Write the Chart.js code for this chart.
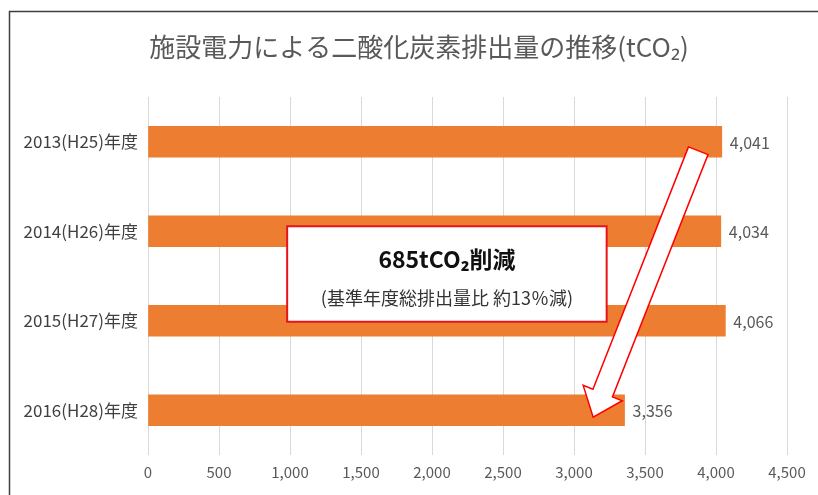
<!DOCTYPE html>
<html>
<head>
<meta charset="utf-8">
<script src="https://cdn.jsdelivr.net/npm/chart.js@4.4.1/dist/chart.umd.min.js"></script>
<style>
    html, body { margin: 0; padding: 0; background: #fff; }
    #wrap { width: 818px; height: 495px; position: relative; }
</style>
</head>
<body>
<div id="wrap"><canvas id="co2Chart"></canvas></div>
<script>
const years = ['2013(H25)年度', '2014(H26)年度', '2015(H27)年度', '2016(H28)年度'];
const emissions = [4041, 4034, 4066, 3356];
const xTicks = [0, 500, 1000, 1500, 2000, 2500, 3000, 3500, 4000, 4500];

const titleText = '施設電力による二酸化炭素排出量の推移(tCO₂)';
const noteMain = '685tCO₂削減';
const noteSub = '(基準年度総排出量比 約13％減)';

const JP = '"Noto Sans CJK JP", "Noto Sans", sans-serif';

/**
 * frame, title, value labels, callout box and arrow
 */
const decorations = {
    id: 'decorations',
    beforeDraw(chart) {
        const ctx = chart.ctx;
        ctx.save();
        ctx.strokeStyle = '#3f3f3f';
        ctx.lineWidth = 1.5;
        ctx.strokeRect(9.5, 11.5, 1000, 1000);
        ctx.fillStyle = '#595959';
        ctx.font = '26px ' + JP;
        ctx.textAlign = 'center';
        ctx.textBaseline = 'middle';
        ctx.fillText(titleText, 419, 47);
        ctx.restore();
    },
    afterDatasetsDraw(chart) {
        const ctx = chart.ctx;
        const xs = chart.scales.x;
        const ys = chart.scales.y;
        const bars = chart.getDatasetMeta(0).data;

        ctx.save();
        ctx.fillStyle = '#595959';
        ctx.font = '16px ' + JP;
        ctx.textAlign = 'left';
        ctx.textBaseline = 'middle';
        bars.forEach((bar, i) => {
            ctx.fillText(emissions[i].toLocaleString('en-US'), bar.x + 8, bar.y + 1);
        });

        // callout box
        const bx = xs.getPixelForValue(980);
        const bx2 = xs.getPixelForValue(3230);
        const by = ys.getPixelForValue(1) - 5;
        const by2 = ys.getPixelForValue(2) + 1;
        ctx.fillStyle = '#ffffff';
        ctx.fillRect(bx, by, bx2 - bx, by2 - by);
        ctx.strokeStyle = '#e8141b';
        ctx.lineWidth = 2;
        ctx.strokeRect(bx, by, bx2 - bx, by2 - by);

        const cx = (bx + bx2) / 2;
        ctx.fillStyle = '#111111';
        ctx.textAlign = 'center';
        ctx.font = 'bold 23px ' + JP;
        ctx.fillText(noteMain, cx, by + 33);
        ctx.fillStyle = '#333333';
        ctx.font = '18px ' + JP;
        ctx.fillText(noteSub, cx, by + 72);

        // downward arrow from the first bar to the last one
        const tail = { x: xs.getPixelForValue(3875), y: ys.getPixelForValue(0) + 9 };
        const tip = { x: xs.getPixelForValue(3135), y: ys.getPixelForValue(3) + 7 };
        const dx = tip.x - tail.x, dy = tip.y - tail.y;
        const len = Math.hypot(dx, dy);
        const ux = dx / len, uy = dy / len;
        const nx = -uy, ny = ux;
        const shaft = 10.5, head = 21, headLen = 26;
        const baseX = tip.x - ux * headLen, baseY = tip.y - uy * headLen;
        const pts = [
            [tail.x + nx * shaft, tail.y + ny * shaft],
            [baseX + nx * shaft, baseY + ny * shaft],
            [baseX + nx * head, baseY + ny * head],
            [tip.x, tip.y],
            [baseX - nx * head, baseY - ny * head],
            [baseX - nx * shaft, baseY - ny * shaft],
            [tail.x - nx * shaft, tail.y - ny * shaft]
        ];
        ctx.beginPath();
        pts.forEach((p, i) => i ? ctx.lineTo(p[0], p[1]) : ctx.moveTo(p[0], p[1]));
        ctx.closePath();
        ctx.fillStyle = '#ffffff';
        ctx.fill();
        ctx.strokeStyle = '#ff0000';
        ctx.lineWidth = 1.5;
        ctx.lineJoin = 'miter';
        ctx.stroke();
        ctx.restore();
    }
};

const canv = document.getElementById('co2Chart').getContext('2d');
const chart = new Chart(canv, {
    type: 'bar',
    data: {
        labels: years,
        datasets: [{
            data: emissions,
            backgroundColor: '#ED7D31',
            borderWidth: 0,
            barThickness: 31
        }]
    },
    options: {
        indexAxis: 'y',
        responsive: true,
        maintainAspectRatio: false,
        animation: false,
        layout: {
            padding: { top: 97, right: 31, bottom: 0, left: 0 }
        },
        plugins: {
            legend: { display: false },
            title: { display: false },
            tooltip: { enabled: false }
        },
        scales: {
            x: {
                min: xTicks[0],
                max: xTicks[xTicks.length - 1],
                afterBuildTicks: (scale) => {
                    scale.ticks = xTicks.map(v => ({ value: v }));
                },
                afterFit: (scale) => { scale.height = 40; },
                border: { display: false },
                grid: {
                    color: '#d9d9d9',
                    lineWidth: 1,
                    drawTicks: false
                },
                ticks: {
                    padding: 8,
                    color: '#595959',
                    font: { family: JP, size: 15 },
                    callback: (value) => value.toLocaleString('en-US')
                }
            },
            y: {
                afterFit: (scale) => { scale.width = 148; },
                border: { display: false },
                grid: { display: false, drawTicks: false },
                ticks: {
                    padding: 10,
                    color: '#404040',
                    font: { family: JP, size: 17 }
                }
            }
        }
    },
    plugins: [decorations]
});
</script>
</body>
</html>
